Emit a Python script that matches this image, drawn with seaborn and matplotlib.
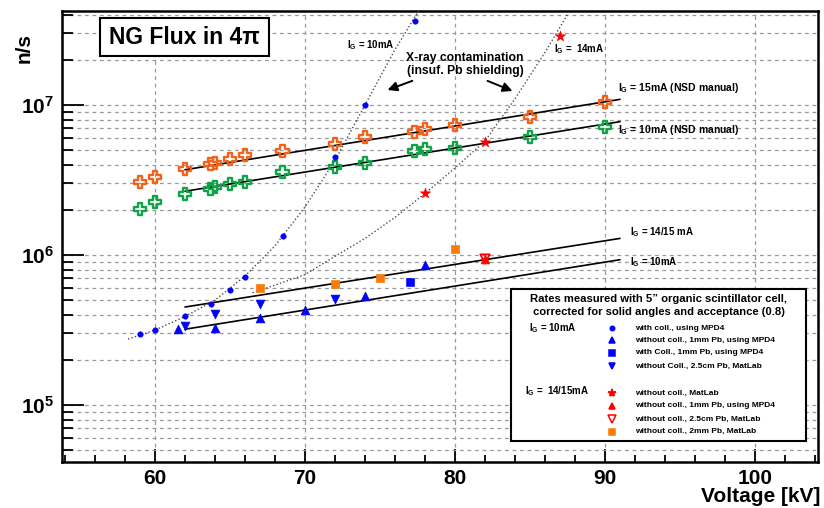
import numpy as np
import pandas as pd
import seaborn as sns
import matplotlib.pyplot as plt
from matplotlib.patches import Rectangle
from matplotlib.lines import Line2D
from matplotlib.ticker import FixedLocator, MultipleLocator, LogLocator, FuncFormatter, NullFormatter

# values (voltage in kV, flux in n/s)
kv_nsd = [59, 60, 62, 63.7, 64, 65, 66, 68.5, 72, 74, 77.3, 78, 80, 85, 90]
flux_15ma_nsd = [3.05e6, 3.33e6, 3.73e6, 4.04e6, 4.09e6, 4.35e6, 4.64e6, 4.95e6,
                 5.5e6, 6.15e6, 6.64e6, 6.92e6, 7.4e6, 8.28e6, 1.04e7]
flux_10ma_nsd = [2.03e6, 2.25e6, 2.55e6, 2.74e6, 2.86e6, 2.97e6, 3.05e6, 3.59e6,
                 3.88e6, 4.09e6, 4.96e6, 5.09e6, 5.19e6, 6.15e6, 7.17e6]

fit_kv = [62, 91]
fit_15ma_nsd = [3.7e6, 1.09e7]
fit_10ma_nsd = [2.66e6, 7.74e6]
fit_1415ma = [4.5e5, 1.29e6]
fit_10ma = [3.2e5, 9.3e5]

# dotted "x-ray contamination" curves
curve_10ma_kv = [58.2, 60, 62, 64, 66, 68, 70, 72, 74, 76, 77.6]
curve_10ma = [2.75e5, 3.16e5, 3.89e5, 5.0e5, 7.24e5, 1.15e6, 2.09e6, 4.27e6, 1.0e7, 2.34e7, 4.27e7]
curve_14ma_kv = [66.5, 68, 70, 72, 74, 76, 78, 80, 82, 84, 86, 87.6]
curve_14ma = [5.6e5, 6.3e5, 7.4e5, 9.8e5, 1.29e6, 1.78e6, 2.57e6, 3.8e6, 5.75e6, 1.1e7, 2.24e7, 4.17e7]

# 10 mA measurements
coll_mpd4_kv = [59, 60, 62, 63.7, 65, 66, 68.5, 72, 74, 77.3]
coll_mpd4 = [2.96e5, 3.16e5, 3.94e5, 4.71e5, 5.84e5, 7.1e5, 1.34e6, 4.53e6, 9.95e6, 3.65e7]
nocoll_1mm_kv = [61.5, 64, 67, 70, 74, 78]
nocoll_1mm = [3.21e5, 3.27e5, 3.78e5, 4.3e5, 5.33e5, 8.58e5]
coll_1mm_kv = [77]
coll_1mm = [6.64e5]
nocoll_25cm_kv = [62, 64, 67, 72]
nocoll_25cm = [3.38e5, 4.02e5, 4.71e5, 5.06e5]

# 14/15 mA measurements
red_matlab_kv = [78, 82, 87]
red_matlab = [2.58e6, 5.7e6, 2.88e7]
red_1mm_kv = [82]
red_1mm = [9.4e5]
red_25cm_kv = [82]
red_25cm = [9.4e5]
orange_2mm_kv = [67, 72, 75, 80]
orange_2mm = [6.0e5, 6.41e5, 6.98e5, 1.09e6]

ORANGE_X = '#f2621b'
ORANGE_SQ = '#f97a08'
GREEN = '#10a348'
BLUE = '#0000ff'
RED = '#ff0000'

sns.set_style("white")
plt.rcParams['font.family'] = ['Liberation Sans', 'DejaVu Sans']
plt.rcParams['font.weight'] = 'bold'
plt.rcParams['text.color'] = 'black'
plt.rcParams['xtick.color'] = 'black'
plt.rcParams['ytick.color'] = 'black'
plt.rcParams['axes.labelcolor'] = 'black'
plt.rcParams['mathtext.fontset'] = 'custom'
plt.rcParams['mathtext.rm'] = 'Liberation Sans:bold'
plt.rcParams['mathtext.it'] = 'Liberation Sans:bold'
plt.rcParams['mathtext.bf'] = 'Liberation Sans:bold'

W, H = 824, 508
fx = lambda px: px / W
fy = lambda py: 1 - py / H

fig = plt.figure(figsize=(W / 100, H / 100), dpi=100)
ax = fig.add_axes([fx(62), fy(462), (818 - 62) / W, (462 - 11) / H])
ax.set_yscale('log')

# fits
for yy in [fit_15ma_nsd, fit_10ma_nsd, fit_1415ma, fit_10ma]:
    sns.lineplot(x=fit_kv, y=yy, color='black', lw=1.2, ax=ax, estimator=None, sort=False, zorder=3)
sns.lineplot(x=curve_10ma_kv, y=curve_10ma, color='0.3', lw=1.0, linestyle=(0, (1, 1.6)),
             ax=ax, estimator=None, sort=False, zorder=3)
sns.lineplot(x=curve_14ma_kv, y=curve_14ma, color='0.3', lw=1.0, linestyle=(0, (1, 1.6)),
             ax=ax, estimator=None, sort=False, zorder=3)

# points
sns.scatterplot(x=kv_nsd, y=flux_15ma_nsd, marker='P', s=75, facecolor='none',
                edgecolor=ORANGE_X, linewidth=1.7, ax=ax, zorder=4)
sns.scatterplot(x=kv_nsd, y=flux_10ma_nsd, marker='P', s=75, facecolor='none',
                edgecolor=GREEN, linewidth=1.7, ax=ax, zorder=4)
sns.scatterplot(x=coll_mpd4_kv, y=coll_mpd4, marker='o', s=16, color=BLUE, edgecolor=BLUE, ax=ax, zorder=4)
sns.scatterplot(x=nocoll_1mm_kv, y=nocoll_1mm, marker='^', s=40, color=BLUE, edgecolor=BLUE, ax=ax, zorder=4)
sns.scatterplot(x=coll_1mm_kv, y=coll_1mm, marker='s', s=30, color=BLUE, edgecolor=BLUE, ax=ax, zorder=4)
sns.scatterplot(x=nocoll_25cm_kv, y=nocoll_25cm, marker='v', s=40, color=BLUE, edgecolor=BLUE, ax=ax, zorder=4)
sns.scatterplot(x=orange_2mm_kv, y=orange_2mm, marker='s', s=36, color=ORANGE_SQ, edgecolor=ORANGE_SQ, ax=ax, zorder=4)
sns.scatterplot(x=red_1mm_kv, y=red_1mm, marker='^', s=40, color=RED, edgecolor=RED, ax=ax, zorder=4)
sns.scatterplot(x=red_25cm_kv, y=red_25cm, marker='v', s=45, facecolor='none', edgecolor=RED,
                linewidth=1.3, ax=ax, zorder=4)
sns.scatterplot(x=red_matlab_kv, y=red_matlab, marker='*', s=55, color=RED, edgecolor=RED, ax=ax, zorder=4)

# axes styling (ROOT look)
ax.set_xlim(53.8, 104.2)
ax.set_ylim(4.17e4, 4.23e7)
ax.xaxis.set_major_locator(FixedLocator([60, 70, 80, 90, 100]))
ax.xaxis.set_minor_locator(MultipleLocator(2))
ax.yaxis.set_major_locator(LogLocator(base=10, numticks=10))
ax.yaxis.set_minor_locator(LogLocator(base=10, subs=np.arange(2, 10), numticks=20))
ax.yaxis.set_major_formatter(FuncFormatter(lambda v, p: r'$10^{%d}$' % int(round(np.log10(v)))))
ax.yaxis.set_minor_formatter(NullFormatter())
ax.set_axisbelow(True)
ax.grid(True, which='major', axis='x', color='0.6', linestyle=(0, (3, 3)), lw=0.9)
ax.grid(True, which='both', axis='y', color='0.6', linestyle=(0, (3, 3)), lw=0.9)
ax.tick_params(axis='x', which='major', direction='in', length=9.5, width=1.3, labelsize=15, pad=5,
               top=False, bottom=True, color='black', labelcolor='black')
ax.tick_params(axis='x', which='minor', direction='in', length=5, width=1.3, top=False, bottom=True,
               color='black')
ax.tick_params(axis='y', which='major', direction='in', length=15.5, width=1.3, labelsize=15, pad=6,
               right=False, left=True, color='black', labelcolor='black')
ax.tick_params(axis='y', which='minor', direction='in', length=8, width=1.3, right=False, left=True,
               color='black')
for sp in ax.spines.values():
    sp.set_color('black')
    sp.set_linewidth(1.8)
ax.set_xlabel('')
ax.set_ylabel('')

fig.text(fx(820), fy(497), 'Voltage [kV]', ha='right', va='center', fontsize=15, fontweight='bold')
fig.text(fx(24), fy(48), 'n/s', ha='center', va='center', rotation=90, fontsize=15, fontweight='bold')

# annotations
ax.text(90.87, 1.3e7, r'$I_{G}$ = 15mA (NSD manual)', fontsize=7.5, va='center', ha='left')
ax.text(90.87, 6.8e6, r'$I_{G}$ = 10mA (NSD manual)', fontsize=7.5, va='center', ha='left')
ax.text(91.67, 1.42e6, r'$I_{G}$ = 14/15 mA', fontsize=7, va='center', ha='left')
ax.text(91.67, 8.98e5, r'$I_{G}$ = 10mA', fontsize=7, va='center', ha='left')
ax.text(72.8, 2.51e7, r'$I_{G}$ = 10mA', fontsize=7, va='center', ha='left')
ax.text(86.6, 2.36e7, r'$I_{G}$ =  14mA', fontsize=7, va='center', ha='left')
ax.text(80.67, 1.85e7, 'X-ray contamination\n(insuf. Pb shielding)', fontsize=8.7, ha='center',
        va='center', linespacing=1.1)
ax.annotate('', xy=(75.33, 1.24e7), xytext=(77.33, 1.47e7),
            arrowprops=dict(arrowstyle='-|>', color='black', lw=1.4, mutation_scale=14))
ax.annotate('', xy=(84.0, 1.22e7), xytext=(82.0, 1.47e7),
            arrowprops=dict(arrowstyle='-|>', color='black', lw=1.4, mutation_scale=14))

# title box
fig.add_artist(Rectangle((fx(100), fy(56)), (269 - 100) / W, (56 - 18) / H, transform=fig.transFigure,
                         facecolor='white', edgecolor='black', lw=1.5, zorder=1))
fig.text(fx(184.5), fy(37), 'NG Flux in 4\u03c0', ha='center', va='center', fontsize=16.5,
         fontweight='bold', zorder=2)

# legend box (ROOT TLegend style)
fig.add_artist(Rectangle((fx(511), fy(441)), (806 - 511) / W, (441 - 289) / H, transform=fig.transFigure,
                         facecolor='white', edgecolor='black', lw=1.5, zorder=1))
fig.text(fx(658.5), fy(299), 'Rates measured with 5\u201d organic scintillator cell,', ha='center',
         va='center', fontsize=8.1, zorder=2)
fig.text(fx(658.5), fy(312), 'corrected for solid angles and acceptance (0.8)', ha='center',
         va='center', fontsize=8.1, zorder=2)
fig.text(fx(529), fy(328), r'$I_{G}$ = 10mA', ha='left', va='center', fontsize=7, zorder=2)
fig.text(fx(525), fy(391), r'$I_{G}$ =  14/15mA', ha='left', va='center', fontsize=7, zorder=2)

legend_rows = [
    (328, 'o', BLUE, BLUE, 3.2, 'with coll., using MPD4'),
    (340, '^', BLUE, BLUE, 4.8, 'without coll., 1mm Pb, using MPD4'),
    (353, 's', BLUE, BLUE, 4.2, 'with Coll., 1mm Pb, using MPD4'),
    (366, 'v', BLUE, BLUE, 4.8, 'without Coll., 2.5cm Pb, MatLab'),
    (393, '*', RED, RED, 6.0, 'without coll., MatLab'),
    (405.7, '^', RED, RED, 4.8, 'without coll., 1mm Pb, using MPD4'),
    (419, 'v', 'none', RED, 5.2, 'without coll., 2.5cm Pb, MatLab'),
    (431.7, 's', ORANGE_SQ, ORANGE_SQ, 4.6, 'without coll., 2mm Pb, MatLab'),
]
for row_y, mk, fc, ec, ms, label in legend_rows:
    fig.add_artist(Line2D([fx(611.7)], [fy(row_y)], marker=mk, markersize=ms, markerfacecolor=fc,
                          markeredgecolor=ec, markeredgewidth=1.1, linestyle='none',
                          transform=fig.transFigure, zorder=2))
    fig.text(fx(635), fy(row_y), label, ha='left', va='center', fontsize=6, zorder=2)

fig.savefig('out.png', dpi=100)
